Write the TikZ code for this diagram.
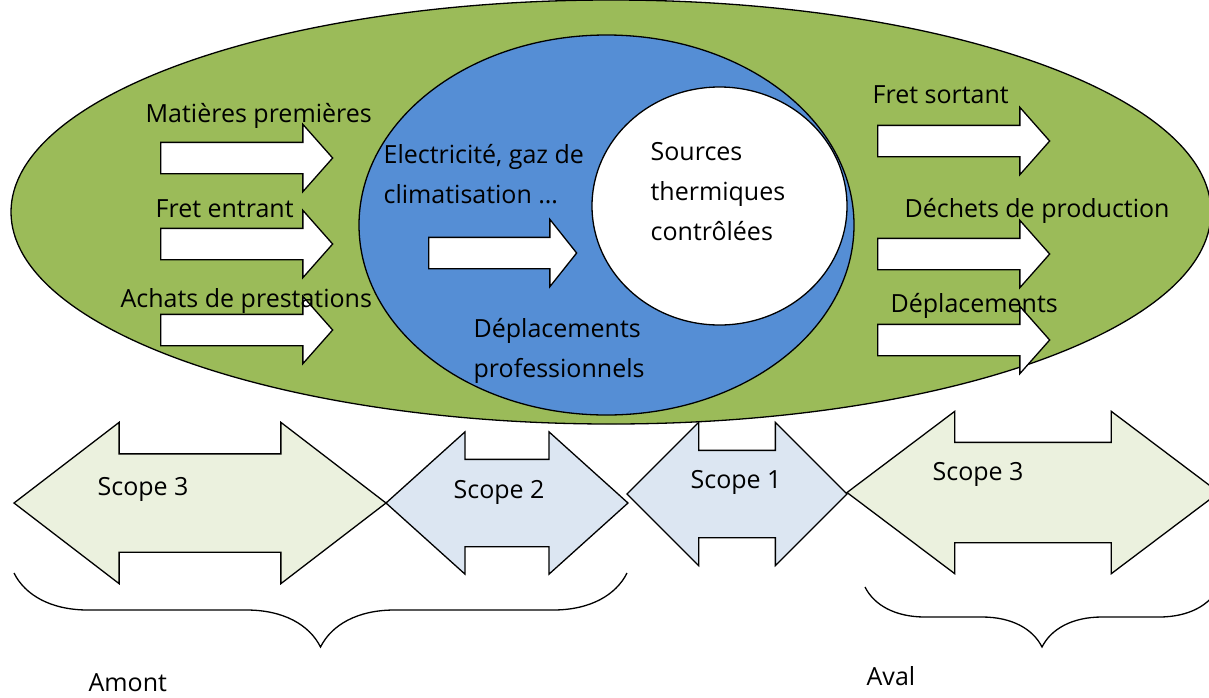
\documentclass[tikz,border=0pt]{standalone}
\usepackage{fontspec}
\setmainfont{Open Sans}
\usetikzlibrary{shapes.geometric,shapes.arrows,decorations.pathreplacing}

\definecolor{scopegreen}{HTML}{9BBB59}
\definecolor{scopeblue}{HTML}{558ED5}
\definecolor{palegreen}{HTML}{EBF1DE}
\definecolor{paleblue}{HTML}{DCE6F2}

\begin{document}
\begin{tikzpicture}[x=1pt, y=-1pt, line width=1.3pt, every node/.style={font=\fontsize{25}{40}\selectfont}]
\tikzstyle{zone}=[draw, ellipse, inner sep=0pt]
\tikzstyle{flow}=[draw, fill=white, single arrow, anchor=tail, inner xsep=0pt, inner ysep=15pt, minimum height=172pt, single arrow head extend=18pt, single arrow tip angle=97]
\tikzstyle{scopearrow}=[draw, double arrow, inner xsep=0pt]
\tikzstyle{txt}=[anchor=base west, inner sep=0pt, align=left]
\useasboundingbox (0,0) rectangle (1209,697);

% the three nested zones
\node[zone, fill=scopegreen, minimum width=1200pt, minimum height=424pt] (indirect) at (611,212) {};
\node[zone, fill=scopeblue, minimum width=495pt, minimum height=380pt] (energy) at (606.5,225) {};
\node[zone, fill=white, minimum width=255pt, minimum height=238pt] (direct) at (719.5,206) {};

% incoming flows
\node[flow] (raw) at (160,158) {};
\node[flow] (inFreight) at (160,244) {};
\node[flow] (services) at (160,330) {};
\node[flow, minimum height=148pt, single arrow tip angle=103] (power) at (428,253) {};
% outgoing flows
\node[flow] (outFreight) at (877,141) {};
\node[flow] (waste) at (877,254) {};
\node[flow] (travel) at (877,340) {};

% multi-line labels sit on the baseline of their last line
\node[txt] (rawTxt) at (145,122) {Matières premières};
\node[txt] (inFreightTxt) at (155,217) {Fret entrant};
\node[txt] (servicesTxt) at (120,307) {Achats de prestations};
\node[txt] (powerTxt) at (383,203) {Electricité, gaz de\\climatisation …};
\node[txt] (directTxt) at (650,240) {Sources\\thermiques\\contrôlées};
\node[txt] (businessTxt) at (473,377) {Déplacements\\professionnels};
\node[txt] (outFreightTxt) at (872,103) {Fret sortant};
\node[txt] (wasteTxt) at (904,217) {Déchets de production};
\node[txt] (travelTxt) at (890,312) {Déplacements};

% scope band
\node[scopearrow, fill=palegreen, minimum height=372pt, inner ysep=48.5pt, double arrow head extend=31.5pt, double arrow tip angle=75] (upThree) at (200,503) {};
\node[scopearrow, fill=paleblue, minimum height=242pt, inner ysep=43pt, double arrow head extend=27.5pt, double arrow tip angle=84] (two) at (507,503) {};
\node[scopearrow, fill=paleblue, minimum height=220pt, inner ysep=43pt, double arrow head extend=28pt, double arrow tip angle=90] (one) at (737,494) {};
\node[scopearrow, fill=palegreen, minimum height=372pt, inner ysep=49.5pt, double arrow head extend=31pt, double arrow tip angle=74] (downThree) at (1033,492.5) {};

\node[txt] (upThreeTxt) at (97,495) {Scope 3};
\node[txt] (twoTxt) at (453,498) {Scope 2};
\node[txt] (oneTxt) at (690,488) {Scope 1};
\node[txt] (downThreeTxt) at (932,480) {Scope 3};

% upstream / downstream braces
\coordinate (amontR) at (627,573);
\coordinate (amontL) at (14,573);
\coordinate (avalR) at (1219,587);
\coordinate (avalL) at (865,587);
\draw[decorate, decoration={brace, amplitude=74pt}] (amontR) -- (amontL);
\draw[decorate, decoration={brace, amplitude=60pt}] (avalR) -- (avalL);

\node[txt] (amontTxt) at (88,691) {Amont};
\node[txt] (avalTxt) at (866,685) {Aval};
\end{tikzpicture}
\end{document}
